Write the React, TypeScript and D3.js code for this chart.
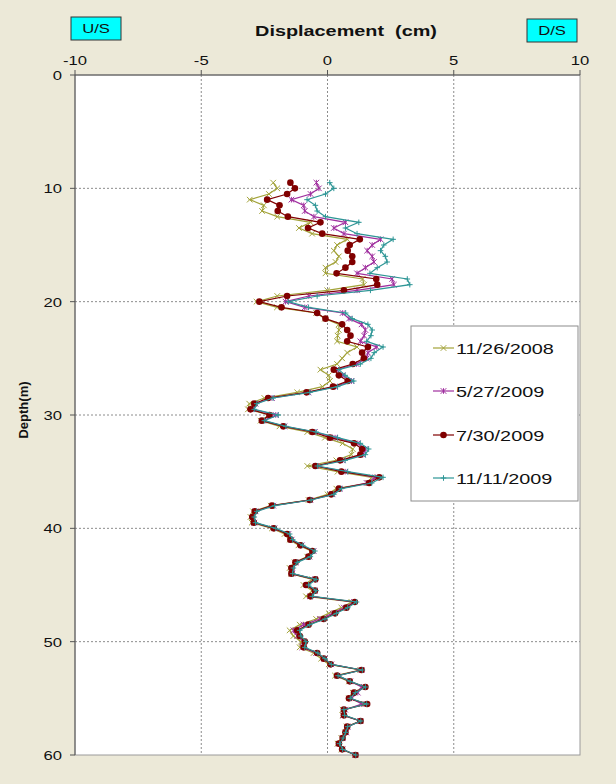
import React from 'react';
import * as d3 from 'd3';

const depths = [
  9.5, 10, 10.5, 11, 11.5, 12, 12.5, 13, 13.5, 14,
  14.5, 15, 15.5, 16, 16.5, 17, 17.5, 18, 18.5, 19,
  19.5, 20, 20.5, 21, 21.5, 22, 22.5, 23, 23.5, 24,
  24.5, 25, 25.5, 26, 26.5, 27, 27.5, 28, 28.5, 29,
  29.5, 30, 30.5, 31, 31.5, 32, 32.5, 33, 33.5, 34,
  34.5, 35, 35.5, 36, 36.5, 37, 37.5, 38, 38.5, 39,
  39.5, 40, 40.5, 41, 41.5, 42, 42.5, 43, 43.5, 44,
  44.5, 45, 45.5, 46, 46.5, 47, 47.5, 48, 48.5, 49,
  49.5, 50, 50.5, 51, 51.5, 52, 52.5, 53, 53.5, 54,
  54.5, 55, 55.5, 56, 56.5, 57, 57.5, 58, 58.5, 59, 59.5, 60,
];

const d20081126 = [
  -2.15, -1.99, -2.32, -3.08, -2.52, -2.59, -1.99, -0.67, -1.13, -0.61,
  0.78, 0.38, 0.25, 0.45, 0.32, -0.08, -0.08, 1.39, 1.45, -0.01,
  -1.99, -2.81, -2.0, -0.45, -0.1, 0.45, 0.45, 0.4, 0.38, 1.17,
  0.78, 0.58, 0.38, -0.28, 0.05, 0.1, -0.2, -1.2, -2.5, -3.1,
  -3.15, -2.3, -2.65, -1.9, -0.8, -0.1, 0.6, 1.0, 0.95, 0.35,
  -0.8, 0.4, 1.75, 1.6, 0.35, 0.0, -0.75, -2.25, -2.95, -3.05,
  -3.0, -2.2, -1.7, -1.5, -1.15, -0.65, -0.8, -1.3, -1.5, -1.45,
  -0.6, -0.95, -0.6, -0.85, 0.95, 0.55, 0.05, -0.45, -1.1, -1.5,
  -1.35, -1.05, -1.1, -0.55, -0.25, 0.05, 1.3, 0.3, 0.85, 1.45,
  1.0, 0.85, 1.5, 0.6, 0.6, 1.3, 0.75, 0.7, 0.55, 0.4, 0.55, 1.1,
];

const d20090527 = [
  -0.44, -0.34, -0.67, -1.43, -0.94, -0.9, -0.54, 0.71, 0.25, 0.65,
  2.1, 1.77, 1.57, 1.77, 1.84, 1.5, 1.17, 2.56, 2.63, 1.17,
  -0.74, -1.66, -0.9, 0.6, 0.85, 1.35, 1.5, 1.45, 1.3, 1.95,
  1.6, 1.55, 1.15, 0.35, 0.6, 0.95, 0.3, -0.75, -2.2, -2.85,
  -2.95, -2.05, -2.55, -1.7, -0.5, 0.3, 1.2, 1.5, 1.4, 0.6,
  -0.45, 0.7, 1.9, 1.55, 0.5, 0.2, -0.68, -2.15, -2.85, -2.95,
  -2.9, -2.1, -1.55, -1.42, -1.02, -0.55, -0.72, -1.25, -1.4, -1.4,
  -0.5, -0.8, -0.5, -0.7, 1.05, 0.65, 0.2, -0.3, -0.95, -1.35,
  -1.2, -0.95, -1.0, -0.45, -0.12, 0.15, 1.35, 0.4, 0.9, 1.35,
  1.2, 0.95, 1.35, 0.7, 0.62, 1.3, 0.8, 0.75, 0.6, 0.45, 0.6, 1.1,
];

const d20090730 = [
  -1.47, -1.29, -1.6, -2.39, -1.9, -1.97, -1.57, -0.28, -0.77, -0.21,
  1.28, 0.88, 0.8, 0.98, 0.98, 0.71, 0.36, 1.93, 1.97, 0.65,
  -1.6, -2.7, -1.82, -0.41, -0.08, 0.58, 0.78, 0.91, 0.78, 1.6,
  1.37, 1.44, 1.0, 0.25, 0.45, 0.8, 0.22, -0.83, -2.35, -2.9,
  -3.05, -2.3, -2.6, -1.75, -0.6, 0.1, 1.05, 1.37, 1.3, 0.5,
  -0.48, 0.55, 2.05, 1.65, 0.45, 0.15, -0.7, -2.2, -2.88, -2.98,
  -2.92, -2.13, -1.6, -1.47, -1.07, -0.6, -0.75, -1.27, -1.43, -1.43,
  -0.48, -0.85, -0.5, -0.67, 1.08, 0.75, 0.3, -0.15, -0.75, -1.2,
  -1.1, -0.9, -0.94, -0.41, -0.15, 0.12, 1.35, 0.38, 0.88, 1.5,
  1.05, 0.85, 1.57, 0.65, 0.65, 1.31, 0.78, 0.71, 0.6, 0.45, 0.58, 1.11,
];

const d20091111 = [
  0.09, 0.25, -0.08, -0.81, -0.48, -0.41, -0.08, 1.24, 0.71, 1.17,
  2.6, 2.23, 2.1, 2.29, 2.36, 1.97, 1.68, 3.16, 3.26, 1.7,
  -0.41, -1.55, -0.75, 0.72, 0.98, 1.6, 1.77, 1.72, 1.55, 2.2,
  1.85, 1.72, 1.3, 0.45, 0.7, 1.04, 0.4, -0.7, -2.15, -2.8,
  -2.9, -1.95, -2.5, -1.65, -0.45, 0.4, 1.3, 1.63, 1.5, 0.7,
  -0.4, 0.8, 2.2, 1.75, 0.55, 0.25, -0.65, -2.1, -2.8, -2.9,
  -2.85, -2.05, -1.5, -1.38, -0.98, -0.5, -0.68, -1.2, -1.35, -1.38,
  -0.45, -0.75, -0.45, -0.6, 1.15, 0.8, 0.35, -0.1, -0.7, -1.1,
  -1.05, -0.85, -0.9, -0.38, -0.1, 0.15, 1.38, 0.42, 0.9, 1.5,
  1.1, 0.9, 1.55, 0.65, 0.68, 1.32, 0.8, 0.72, 0.62, 0.48, 0.6, 1.12,
];

const seriesNames = ['11/26/2008', '5/27/2009', '7/30/2009', '11/11/2009'];
const seriesValues = [d20081126, d20090527, d20090730, d20091111];
const seriesColors = ['#A3A33A', '#A0309F', '#800000', '#2E9696'];
const seriesMarkers = ['x', 'star', 'circle', 'plus'];

const xTicks = [-10, -5, 0, 5, 10];
const yTicks = [0, 10, 20, 30, 40, 50, 60];

const FONT = 'Arial, "Liberation Sans", Helvetica, sans-serif';
const SX = 1.28;

function Marker({ type, x, y, color }: { type: string; x: number; y: number; color: string }) {
  const s = 2.8;
  if (type === 'circle') return <circle cx={x} cy={y} r={3.3} fill={color} />;
  if (type === 'x')
    return (
      <path d={`M${x - s},${y - s}L${x + s},${y + s}M${x - s},${y + s}L${x + s},${y - s}`} stroke={color} strokeWidth={1} fill="none" />
    );
  if (type === 'star')
    return (
      <path
        d={`M${x - s},${y - s}L${x + s},${y + s}M${x - s},${y + s}L${x + s},${y - s}M${x},${y - s}L${x},${y + s}`}
        stroke={color}
        strokeWidth={1}
        fill="none"
      />
    );
  return <path d={`M${x - s},${y}L${x + s},${y}M${x},${y - s}L${x},${y + s}`} stroke={color} strokeWidth={1} fill="none" />;
}

function SText({ x, y, anchor = 'start', size, bold = false, children }: any) {
  return (
    <text
      transform={`translate(${x},${y}) scale(${SX},1)`}
      textAnchor={anchor}
      fontSize={size}
      fontWeight={bold ? 'bold' : 'normal'}
      fill="#111"
      style={{ whiteSpace: 'pre' }}
    >
      {children}
    </text>
  );
}

export default function App() {
  const W = 616;
  const H = 784;
  const left = 75;
  const right = 580;
  const top = 75;
  const bottom = 755;

  const x = d3.scaleLinear().domain([-10, 10]).range([left, right]);
  const y = d3.scaleLinear().domain([0, 60]).range([top, bottom]);

  const line = d3
    .line<number>()
    .x((v) => x(v))
    .y((_, i) => y(depths[i]));

  const legendX = 411;
  const legendY = 326;
  const legendW = 167;
  const legendH = 175;
  const legendRows = [348, 391, 435, 478];

  return (
    <svg width={W} height={H} style={{ position: 'absolute', left: 0, top: 0, fontFamily: FONT }}>
      <rect x={0} y={0} width={W} height={H} fill="#ECE9D8" />
      <rect x={left} y={top} width={right - left} height={bottom - top} fill="#FFFFFF" stroke="#9A9A9A" strokeWidth={1} />

      {/* gridlines */}
      {xTicks
        .filter((t) => t !== -10 && t !== 10)
        .map((t) => (
          <line key={'gx' + t} x1={x(t)} x2={x(t)} y1={top} y2={bottom} stroke="#8C8C8C" strokeWidth={1} strokeDasharray="2,2" />
        ))}
      {yTicks
        .filter((t) => t !== 0 && t !== 60)
        .map((t) => (
          <line key={'gy' + t} x1={left} x2={right} y1={y(t)} y2={y(t)} stroke="#8C8C8C" strokeWidth={1} strokeDasharray="2,2" />
        ))}

      {/* axes */}
      <line x1={left} x2={right} y1={top} y2={top} stroke="#555" strokeWidth={1} />
      <line x1={left} x2={left} y1={top} y2={bottom} stroke="#555" strokeWidth={1} />
      {xTicks.map((t) => (
        <g key={'xt' + t}>
          <line x1={x(t)} x2={x(t)} y1={top} y2={top - 5} stroke="#555" />
          <SText x={x(t)} y={65} anchor="middle" size={13}>
            {String(t)}
          </SText>
        </g>
      ))}
      {yTicks.map((t) => (
        <g key={'yt' + t}>
          <line x1={left - 5} x2={left} y1={y(t)} y2={y(t)} stroke="#555" />
          <SText x={62} y={y(t) + 5} anchor="end" size={13}>
            {String(t)}
          </SText>
        </g>
      ))}

      {/* series */}
      {seriesValues.map((vals, si) => (
        <g key={'s' + si}>
          <path d={line(vals) || ''} fill="none" stroke={seriesColors[si]} strokeWidth={1.2} />
          {vals.map((v, i) => (
            <Marker key={i} type={seriesMarkers[si]} x={x(v)} y={y(depths[i])} color={seriesColors[si]} />
          ))}
        </g>
      ))}

      {/* titles */}
      <SText x={346} y={36} anchor="middle" size={15.5} bold>
        {'Displacement  (cm)'}
      </SText>
      <text transform={`translate(28,410) rotate(-90)`} textAnchor="middle" fontSize={13} fontWeight="bold" fill="#111">
        Depth(m)
      </text>

      <rect x={71} y={17} width={50} height={23} fill="#00FFFF" stroke="#333" strokeWidth={1} />
      <SText x={96} y={33} anchor="middle" size={13}>
        U/S
      </SText>
      <rect x={527} y={19} width={50} height={23} fill="#00FFFF" stroke="#333" strokeWidth={1} />
      <SText x={552} y={35} anchor="middle" size={13}>
        D/S
      </SText>

      {/* legend */}
      <rect x={legendX} y={legendY} width={legendW} height={legendH} fill="#FFFFFF" stroke="#8C8C8C" strokeWidth={1} />
      {seriesNames.map((name, si) => (
        <g key={'lg' + si}>
          <line x1={433} x2={454} y1={legendRows[si]} y2={legendRows[si]} stroke={seriesColors[si]} strokeWidth={1.2} />
          <Marker type={seriesMarkers[si]} x={443.5} y={legendRows[si]} color={seriesColors[si]} />
          <SText x={456} y={legendRows[si] + 5.5} size={15.5}>
            {name}
          </SText>
        </g>
      ))}
    </svg>
  );
}
